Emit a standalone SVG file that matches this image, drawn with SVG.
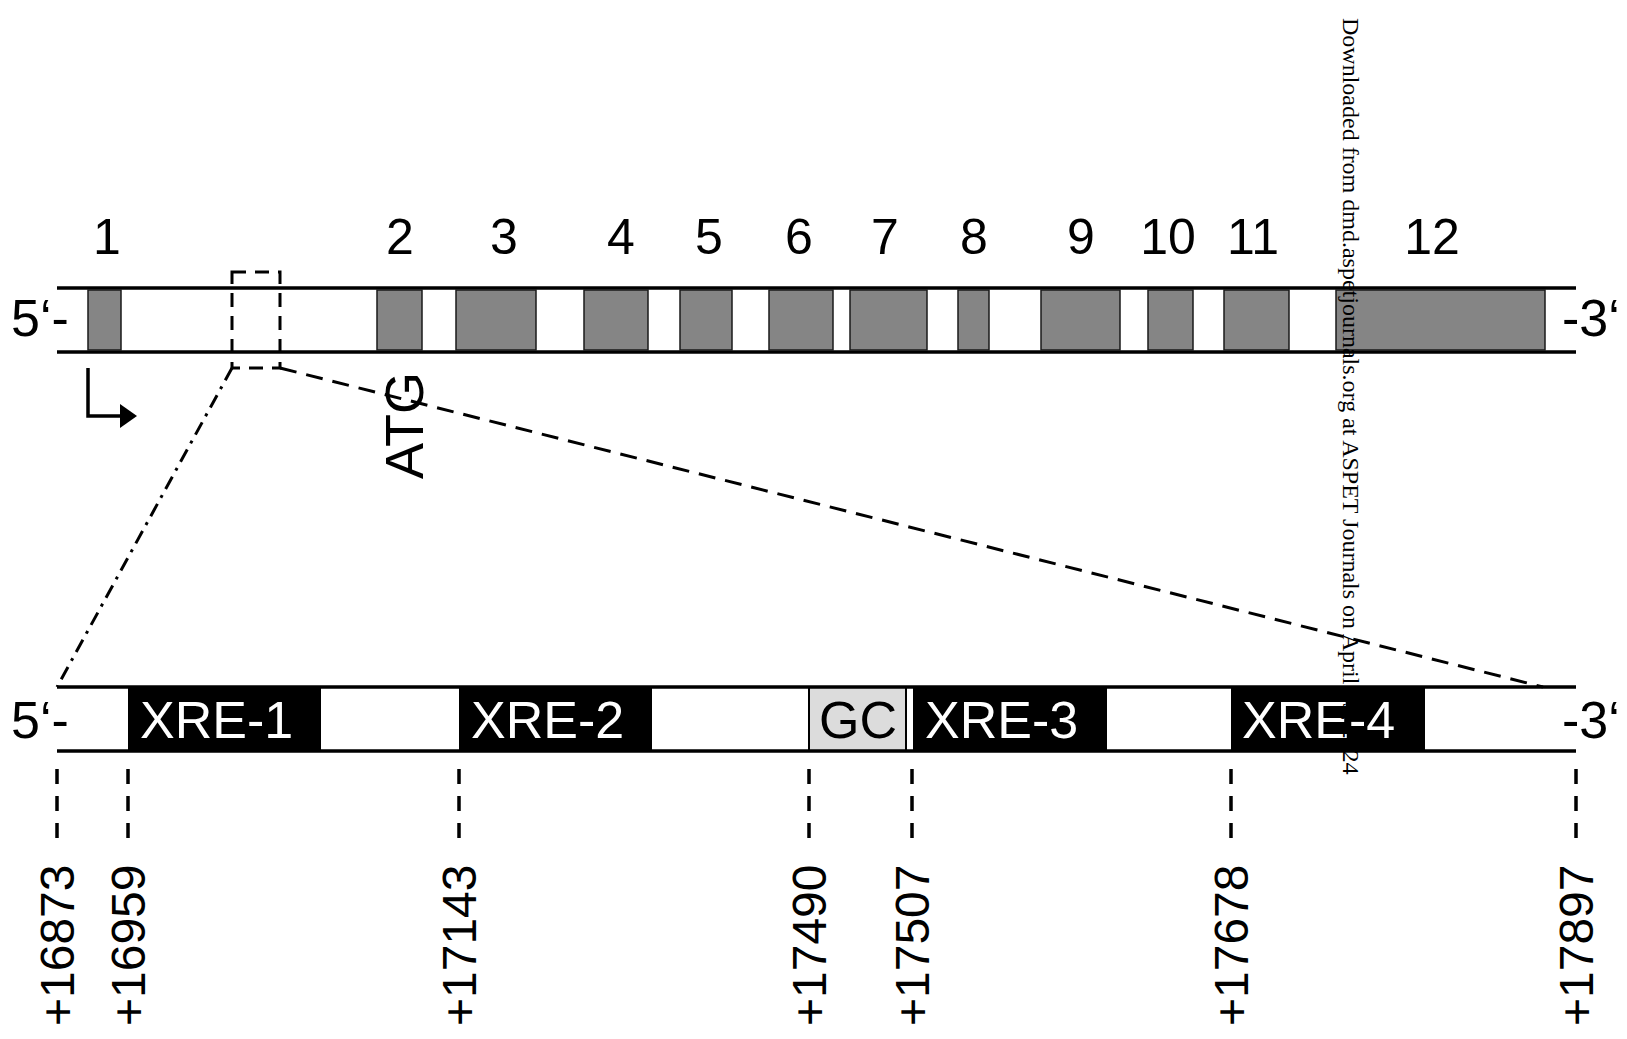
<svg xmlns="http://www.w3.org/2000/svg" width="1627" height="1039" viewBox="0 0 1627 1039">
<style>
.lbl{font-family:"Liberation Sans",Arial,sans-serif;fill:#000}
.num{font-size:50px;text-anchor:middle}
.end{font-size:52px}
.xre{font-size:52px;fill:#fff}
.pos{font-size:48px}
.bar{stroke:#000;stroke-width:3.5;fill:none}
.exon{fill:#858585;stroke:#1a1a1a;stroke-width:1.5}
.blk{fill:#000}
.tick{stroke:#000;stroke-width:3.5;stroke-dasharray:15 12;fill:none}
.wm{font-family:"Liberation Serif","Times New Roman",serif;font-size:24px;fill:#000}
</style>
<rect x="0" y="0" width="1627" height="1039" fill="#fff"/>

<g id="gene">
  <line class="bar" x1="57" y1="288" x2="1576" y2="288"/>
  <line class="bar" x1="57" y1="352" x2="1576" y2="352"/>
  <text class="lbl end" x="11" y="336">5‘-</text>
  <text class="lbl end" x="1562" y="336">-3‘</text>
</g>
<g id="exons">
  <g id="exon1"><rect class="exon" x="88" y="290" width="33" height="60"/><text class="lbl num" x="107" y="254">1</text></g>
  <g id="exon2"><rect class="exon" x="377" y="290" width="45" height="60"/><text class="lbl num" x="400" y="254">2</text></g>
  <g id="exon3"><rect class="exon" x="456" y="290" width="80" height="60"/><text class="lbl num" x="504" y="254">3</text></g>
  <g id="exon4"><rect class="exon" x="584" y="290" width="64" height="60"/><text class="lbl num" x="621" y="254">4</text></g>
  <g id="exon5"><rect class="exon" x="680" y="290" width="52" height="60"/><text class="lbl num" x="709" y="254">5</text></g>
  <g id="exon6"><rect class="exon" x="769" y="290" width="64" height="60"/><text class="lbl num" x="799" y="254">6</text></g>
  <g id="exon7"><rect class="exon" x="850" y="290" width="77" height="60"/><text class="lbl num" x="885" y="254">7</text></g>
  <g id="exon8"><rect class="exon" x="958" y="290" width="31" height="60"/><text class="lbl num" x="974" y="254">8</text></g>
  <g id="exon9"><rect class="exon" x="1041" y="290" width="79" height="60"/><text class="lbl num" x="1081" y="254">9</text></g>
  <g id="exon10"><rect class="exon" x="1148" y="290" width="45" height="60"/><text class="lbl num" x="1168" y="254">10</text></g>
  <g id="exon11"><rect class="exon" x="1224" y="290" width="65" height="60"/><text class="lbl num" x="1253" y="254">11</text></g>
  <g id="exon12"><rect class="exon" x="1336" y="290" width="209" height="60"/><text class="lbl num" x="1432" y="254">12</text></g>
</g>

<g id="tss">
  <path d="M88 368 V416 H122" fill="none" stroke="#000" stroke-width="3.5"/>
  <polygon points="120,404 137,416 120,428" fill="#000"/>
</g>
<g id="atg">
  <text class="lbl" font-size="54" transform="translate(423,479) rotate(-90)">ATG</text>
</g>

<g id="connectors">
  <rect x="232" y="272" width="48" height="96" fill="none" stroke="#000" stroke-width="3" stroke-dasharray="14 9"/>
  <line x1="232" y1="368" x2="57" y2="687" stroke="#000" stroke-width="3" stroke-dasharray="14 7 3 7"/>
  <line x1="280" y1="368" x2="1543" y2="687" stroke="#000" stroke-width="3" stroke-dasharray="17 10"/>
</g>

<g id="promoter">
  <rect id="xre1" class="blk" x="128" y="687" width="193" height="64"/>
  <rect id="xre2" class="blk" x="459" y="687" width="193" height="64"/>
  <rect id="gc" x="809" y="687" width="97" height="64" fill="#dcdcdc" stroke="#000" stroke-width="2"/>
  <rect id="xre3" class="blk" x="913" y="687" width="194" height="64"/>
  <rect id="xre4" class="blk" x="1231" y="687" width="194" height="64"/>
  <line class="bar" x1="57" y1="687" x2="1576" y2="687" stroke-width="3"/>
  <line class="bar" x1="57" y1="751" x2="1576" y2="751" stroke-width="3"/>
  <text class="lbl xre" x="140" y="738">XRE-1</text>
  <text class="lbl xre" x="471" y="738">XRE-2</text>
  <text class="lbl" font-size="52" text-anchor="middle" x="858" y="738">GC</text>
  <text class="lbl xre" x="925" y="738">XRE-3</text>
  <text class="lbl xre" x="1242" y="738">XRE-4</text>
  <text class="lbl end" x="11" y="738">5‘-</text>
  <text class="lbl end" x="1562" y="738">-3‘</text>
</g>

<g id="ticks">
  <line class="tick" x1="57" y1="769" x2="57" y2="840"/>
  <line class="tick" x1="128" y1="769" x2="128" y2="840"/>
  <line class="tick" x1="459" y1="769" x2="459" y2="840"/>
  <line class="tick" x1="809" y1="769" x2="809" y2="840"/>
  <line class="tick" x1="912" y1="769" x2="912" y2="840"/>
  <line class="tick" x1="1231" y1="769" x2="1231" y2="840"/>
  <line class="tick" x1="1576" y1="769" x2="1576" y2="840"/>
</g>
<g id="positions">
  <text class="lbl pos" transform="translate(74,1026) rotate(-90)">+16873</text>
  <text class="lbl pos" transform="translate(145,1026) rotate(-90)">+16959</text>
  <text class="lbl pos" transform="translate(476,1026) rotate(-90)">+17143</text>
  <text class="lbl pos" transform="translate(826,1026) rotate(-90)">+17490</text>
  <text class="lbl pos" transform="translate(929,1026) rotate(-90)">+17507</text>
  <text class="lbl pos" transform="translate(1248,1026) rotate(-90)">+17678</text>
  <text class="lbl pos" transform="translate(1593,1026) rotate(-90)">+17897</text>
</g>

<g id="watermark">
  <text class="wm" transform="translate(1343,18) rotate(90)">Downloaded from dmd.aspetjournals.org at ASPET Journals on April 19, 2024</text>
</g>
</svg>
